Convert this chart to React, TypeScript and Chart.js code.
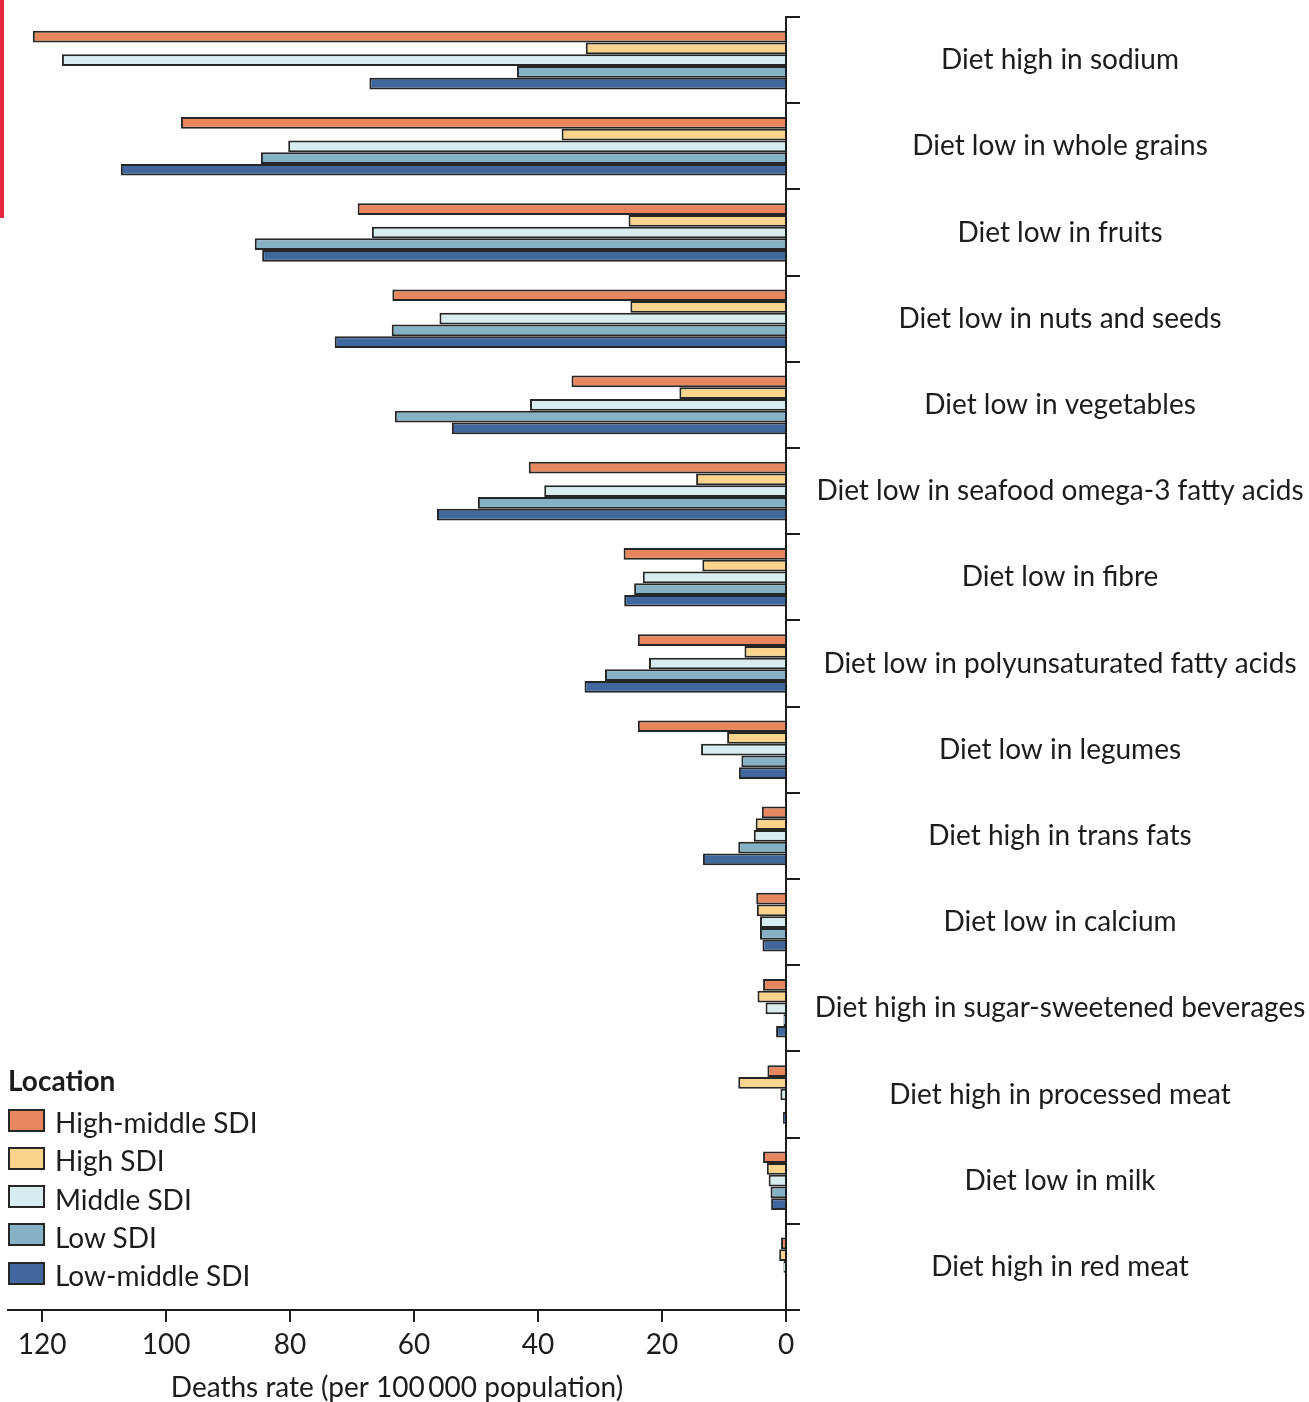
import React, { useEffect, useRef } from "react";
import { Chart, registerables } from "chart.js";

Chart.register(...registerables);

const categories = [
  "Diet high in sodium",
  "Diet low in whole grains",
  "Diet low in fruits",
  "Diet low in nuts and seeds",
  "Diet low in vegetables",
  "Diet low in seafood omega-3 fatty acids",
  "Diet low in fibre",
  "Diet low in polyunsaturated fatty acids",
  "Diet low in legumes",
  "Diet high in trans fats",
  "Diet low in calcium",
  "Diet high in sugar-sweetened beverages",
  "Diet high in processed meat",
  "Diet low in milk",
  "Diet high in red meat",
];

const seriesNames = ["High-middle SDI", "High SDI", "Middle SDI", "Low SDI", "Low-middle SDI"];

const highMiddleSDI = [121.5, 97.6, 69.1, 63.5, 34.6, 41.5, 26.2, 23.9, 23.9, 3.9, 4.8, 3.7, 3.0, 3.7, 0.8];
const highSDI = [32.3, 36.2, 25.4, 25.1, 17.2, 14.5, 13.5, 6.7, 9.5, 4.9, 4.7, 4.6, 7.7, 3.1, 1.1];
const middleSDI = [116.8, 80.3, 66.8, 55.9, 41.3, 39.0, 23.1, 22.1, 13.7, 5.2, 4.2, 3.3, 0.9, 2.8, 0.4];
const lowSDI = [43.4, 84.7, 85.7, 63.6, 63.1, 49.7, 24.5, 29.2, 7.2, 7.7, 4.2, 0.4, 0.2, 2.5, 0.15];
const lowMiddleSDI = [67.2, 107.3, 84.5, 72.8, 53.9, 56.3, 26.1, 32.5, 7.6, 13.4, 3.8, 1.6, 0.5, 2.4, 0.1];

const seriesValues = [highMiddleSDI, highSDI, middleSDI, lowSDI, lowMiddleSDI];
const seriesColors = ["#E8875E", "#F9D48A", "#D8EDEF", "#86B2C5", "#41679F"];

const xTickValues = [0, 20, 40, 60, 80, 100, 120];
const xTitle = "Deaths rate (per 100\u2009000 population)";
const legendTitle = "Location";

const FONT = "Lato, 'Noto Sans', sans-serif";
const INK = "#1c1c1c";
const LABEL_SIZE = 28;

export default function App() {
  const ref = useRef<HTMLCanvasElement>(null);

  useEffect(() => {
    const canvas = ref.current;
    if (!canvas) return;
    const mctx = document.createElement("canvas").getContext("2d")!;
    mctx.font = `${LABEL_SIZE}px ${FONT}`;
    const widest = Math.max(...categories.map((c) => mctx.measureText(c).width));
    const labelCenter = 1060;
    const yPad = labelCenter - 786 - 14 - widest / 2;

    const chart = new Chart(canvas, {
      type: "bar",
      data: {
        labels: categories,
        datasets: seriesNames.map((name, i) => ({
          label: name,
          data: seriesValues[i],
          backgroundColor: seriesColors[i],
          borderColor: "#262626",
          borderWidth: 2,
          categoryPercentage: 0.68,
          barPercentage: 1,
        })),
      },
      options: {
        indexAxis: "y",
        animation: false,
        responsive: false,
        maintainAspectRatio: false,
        devicePixelRatio: 1,
        layout: { padding: { left: 8, top: 17, right: 0, bottom: 0 } },
        plugins: { legend: { display: false }, tooltip: { enabled: false } },
        scales: {
          x: {
            type: "linear",
            reverse: true,
            min: 0,
            max: 125.5,
            position: "bottom",
            afterBuildTicks: (s: any) => {
              s.ticks = xTickValues.map((v) => ({ value: v }));
            },
            ticks: {
              font: { family: FONT, size: LABEL_SIZE },
              color: INK,
              padding: 6,
              maxRotation: 0,
              autoSkip: false,
            },
            grid: { drawOnChartArea: false, tickLength: 12, color: INK, lineWidth: 2 },
            border: { color: INK, width: 2 },
            title: {
              display: true,
              text: xTitle,
              color: INK,
              font: { family: FONT, size: LABEL_SIZE, lineHeight: 1 },
              padding: { top: 0, bottom: 0 },
            },
            afterFit: (s: any) => {
              s.height = 92;
              s.paddingLeft = 0;
            },
          },
          y: {
            position: "right",
            ticks: {
              font: { family: FONT, size: LABEL_SIZE },
              color: INK,
              crossAlign: "center",
              padding: yPad,
              autoSkip: false,
            },
            grid: { drawOnChartArea: false, tickLength: 14, color: INK, lineWidth: 2, offset: true },
            border: { color: INK, width: 2 },
            afterFit: (s: any) => {
              s.width = 1309 - 786;
              s.paddingTop = 0;
              s.paddingBottom = 0;
            },
          },
        },
      },
    });
    return () => chart.destroy();
  }, []);

  return (
    <div style={{ position: "absolute", left: 0, top: 0, width: 1309, height: 1402, background: "#fff", overflow: "hidden" }}>
      <canvas ref={ref} width={1309} height={1402} style={{ position: "absolute", left: 0, top: 0 }} />
      <div style={{ position: "absolute", left: 0, top: 0, width: 4, height: 218, background: "#E5283F" }} />
      <div
        style={{
          position: "absolute",
          left: 8,
          top: 1064,
          fontFamily: FONT,
          fontWeight: 700,
          fontSize: LABEL_SIZE,
          lineHeight: "32px",
          color: INK,
        }}
      >
        {legendTitle}
      </div>
      {seriesNames.map((name, i) => (
        <div
          key={name}
          style={{
            position: "absolute",
            left: 8,
            top: 1109 + i * 38.3,
            height: 22,
            display: "flex",
            alignItems: "center",
            fontFamily: FONT,
            fontSize: LABEL_SIZE,
            color: INK,
          }}
        >
          <div
            style={{
              width: 37,
              height: 23,
              boxSizing: "border-box",
              border: "2px solid #262626",
              background: seriesColors[i],
              marginRight: 10,
              flex: "none",
            }}
          />
          <span style={{ lineHeight: "22px", position: "relative", top: 2 }}>{name}</span>
        </div>
      ))}
    </div>
  );
}
